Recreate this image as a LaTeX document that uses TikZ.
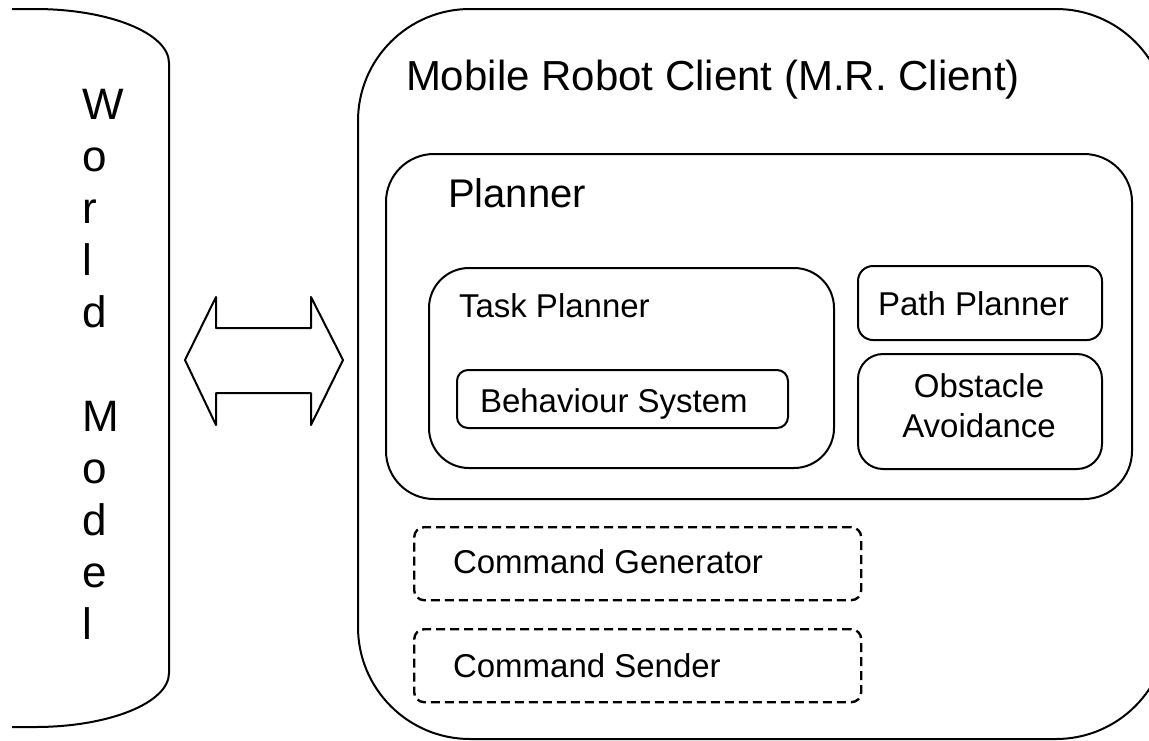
\documentclass[tikz,border=0pt]{standalone}
\usepackage{fontspec}
\setmainfont{Liberation Sans}
\begin{document}
\begin{tikzpicture}[x=1pt,y=-1pt,
  line width=2pt, line join=round,
  frame/.style={draw, line width=2pt, inner sep=0pt, anchor=north west},
  dashframe/.style={frame, line width=2.4pt, dash pattern=on 9pt off 5pt, rounded corners=10pt},
  label/.style={inner sep=0pt, anchor=base west},
  bigfont/.style={font=\fontsize{42}{50}\selectfont},
  midfont/.style={font=\fontsize{40}{48}\selectfont},
  smallfont/.style={font=\fontsize{33}{40}\selectfont}]
\useasboundingbox (0,0) rectangle (1149,740);
\clip (0,0) rectangle (1149,740);

% World model column on the left edge
\draw (12,9) -- (35,9) arc[start angle=90, end angle=0, x radius=134pt, y radius=54pt]
      -- (169,673) arc[start angle=0, end angle=-90, x radius=134pt, y radius=54pt]
      -- (12,727);
\node[inner sep=0pt, anchor=north west, align=left,
      font=\fontsize{44}{52}\selectfont] (world) at (81.5,88.5)
  {W\\o\\r\\l\\d\\[52pt]M\\o\\d\\e\\l};

% Two-way exchange arrow
\coordinate (exl) at (185,360);
\coordinate (exr) at (343,360);
\draw (exl) -- (216,297) -- (216,328) -- (311,328) -- (311,297) -- (exr)
      -- (311,425) -- (311,393) -- (216,393) -- (216,425) -- cycle;

% Mobile robot client
\node[frame, rounded corners=112pt, minimum width=810pt, minimum height=730pt]
  (client) at (357,8) {};
\node[label, bigfont] (clientlbl) at (405,90) {Mobile Robot Client (M.R. Client)};

% Planner
\node[frame, rounded corners=48pt, minimum width=746pt, minimum height=345pt]
  (planner) at (385,153) {};
\node[label, midfont] (plannerlbl) at (447,207) {Planner};

% Task planner with behaviour system
\node[frame, rounded corners=40pt, minimum width=405pt, minimum height=200pt]
  (task) at (428,267) {};
\node[label, smallfont] (tasklbl) at (458,317) {Task Planner};
\node[frame, rounded corners=11pt, minimum width=331pt, minimum height=58pt]
  (behav) at (456,369) {};
\node[label, smallfont] (behavlbl) at (479,412) {Behaviour System};

% Path planner and obstacle avoidance
\node[frame, rounded corners=15pt, minimum width=244pt, minimum height=74pt]
  (path) at (857,265) {};
\node[label, smallfont] (pathlbl) at (877,315) {Path Planner};
\node[frame, rounded corners=25pt, minimum width=244pt, minimum height=115pt]
  (obst) at (857,353) {};
\node[inner sep=0pt, align=center, smallfont] (obstlbl) at (979,406)
  {Obstacle\\Avoidance};

% Command generator and sender
\node[dashframe, minimum width=447pt, minimum height=73pt] (gen) at (413,526) {};
\node[label, smallfont] (genlbl) at (452,573) {Command Generator};
\node[dashframe, minimum width=447pt, minimum height=73pt] (send) at (413,628) {};
\node[label, smallfont] (sendlbl) at (452,677) {Command Sender};
\end{tikzpicture}
\end{document}
